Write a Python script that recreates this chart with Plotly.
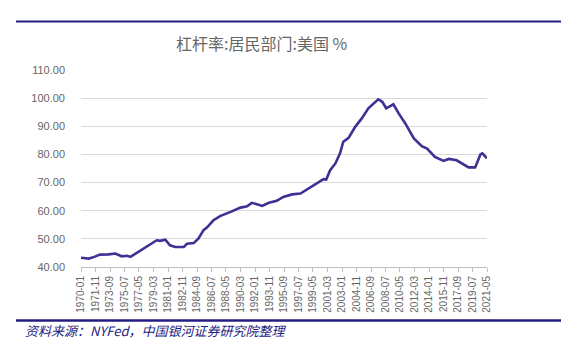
import plotly.graph_objects as go

# ---- data ----
dates = [
    "1970-01", "1971-01", "1971-09", "1972-06", "1973-07", "1974-05", "1975-03", "1975-11",
    "1976-04", "1977-07", "1978-08", "1979-08", "1980-01", "1980-09", "1981-04", "1981-12",
    "1983-01", "1983-06", "1984-04", "1984-11", "1985-07", "1985-12", "1986-10", "1987-08",
    "1988-12", "1990-03", "1991-01", "1991-08", "1992-04", "1992-12", "1993-10", "1994-10",
    "1995-08", "1996-09", "1997-10", "1998-10", "1999-11", "2000-09", "2001-01", "2001-07",
    "2002-03", "2002-10", "2003-03", "2003-11", "2004-09", "2005-07", "2006-05", "2007-03",
    "2007-08", "2008-02", "2008-08", "2008-12", "2009-07", "2010-03", "2011-01", "2012-02",
    "2013-02", "2013-10", "2014-10", "2015-11", "2016-07", "2017-07", "2018-05", "2019-01",
    "2019-11", "2020-07", "2020-10", "2021-05",
]
leverage = [
    43.3, 43.0, 43.6, 44.4, 44.5, 44.8, 43.8, 44.0,
    43.6, 45.9, 47.7, 49.5, 49.3, 49.7, 47.7, 47.1,
    47.1, 48.3, 48.5, 50.1, 53.1, 54.0, 56.6, 58.1,
    59.6, 61.1, 61.6, 62.8, 62.3, 61.7, 62.8, 63.5,
    64.9, 65.8, 66.1, 67.9, 69.7, 71.2, 71.1, 74.4,
    76.8, 80.4, 84.5, 85.9, 89.8, 92.8, 96.4, 98.7,
    99.6, 98.7, 96.4, 96.9, 97.8, 94.6, 91.0, 85.7,
    82.9, 82.1, 79.1, 77.7, 78.4, 77.9, 76.4, 75.4,
    75.4, 80.0, 80.4, 78.6,
]
tick_labels = [
    "1970-01", "1971-11", "1973-09", "1975-07", "1977-05", "1979-03", "1981-01", "1982-11",
    "1984-09", "1986-07", "1988-05", "1990-03", "1992-01", "1993-11", "1995-09", "1997-07",
    "1999-05", "2001-03", "2003-01", "2004-11", "2006-09", "2008-07", "2010-05", "2012-03",
    "2014-01", "2015-11", "2017-09", "2019-07", "2021-05",
]
y_ticks = [40, 50, 60, 70, 80, 90, 100, 110]
title_text = "杠杆率:居民部门:美国 %"
source_text = "资料来源：NYFed，中国银河证券研究院整理"

# ---- layout geometry ----
W, H = 561, 340
L, R, T, B = 81, 74, 70, 73
PW, PH = W - L - R, H - T - B


def px(x):
    return (x - L) / PW


def py(y):
    return (H - B - y) / PH


navy = "#231c82"
grey_txt = "#666666"

fig = go.Figure()
fig.add_trace(go.Scatter(
    x=[d + "-01" for d in dates], y=leverage, mode="lines",
    line=dict(color="#3d3193", width=2.6), showlegend=False,
))

fig.update_layout(
    width=W, height=H,
    margin=dict(l=L, r=R, t=T, b=B, pad=0),
    paper_bgcolor="white", plot_bgcolor="white",
    font=dict(family="Liberation Sans, Arial, sans-serif", color=grey_txt),
    xaxis=dict(
        type="date", range=["1970-01-01", "2021-05-01"],
        tickmode="array", tickvals=[t + "-01" for t in tick_labels], ticktext=tick_labels,
        tickangle=-90, tickfont=dict(size=10, color=grey_txt),
        ticks="outside", ticklen=4, tickcolor="#bfbfbf",
        showline=True, linecolor="#bfbfbf", linewidth=1,
        showgrid=False, zeroline=False,
    ),
    yaxis=dict(
        range=[40, 110], tickmode="array", tickvals=y_ticks, tickformat=".2f",
        tickfont=dict(size=11, color=grey_txt),
        showgrid=True, gridcolor="#d9d9d9", gridwidth=1,
        showline=False, zeroline=False, ticks="", ticklabelstandoff=15,
    ),
    shapes=[
        dict(type="line", xref="paper", yref="paper", x0=px(16), x1=px(561),
             y0=py(21.5), y1=py(21.5), line=dict(color=navy, width=2)),
        dict(type="line", xref="paper", yref="paper", x0=px(16), x1=px(561),
             y0=py(320.5), y1=py(320.5), line=dict(color=navy, width=2.5)),
    ],
    annotations=[
        dict(text=title_text, xref="paper", yref="paper", x=px(261), y=py(43),
             xanchor="center", yanchor="middle", showarrow=False,
             font=dict(family="Noto Sans CJK SC", size=16, color=grey_txt)),
        dict(text="<i>" + source_text + "</i>", xref="paper", yref="paper", x=px(23), y=py(330),
             xanchor="left", yanchor="middle", showarrow=False,
             font=dict(family="Noto Sans CJK SC", size=13, color=navy)),
    ],
)

fig.write_html("out.html")
